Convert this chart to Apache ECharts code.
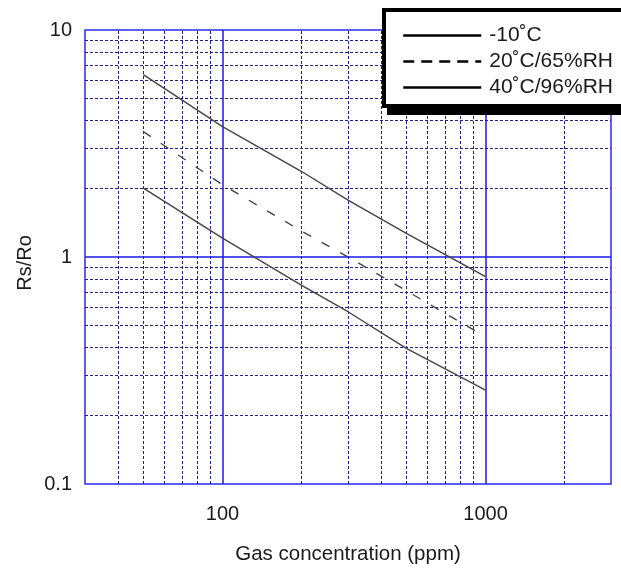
<!DOCTYPE html>
<html><head><meta charset="utf-8">
<script src="https://cdn.jsdelivr.net/npm/echarts@6/dist/echarts.min.js"></script>
<style>html,body{margin:0;padding:0;background:#fff}#c{width:621px;height:571px}</style>
</head><body><div id="c"></div>
<script>
const seriesNames = ['-10˚C', '20˚C/65%RH', '40˚C/96%RH'];
const concentrations = [50, 100, 200, 300, 500, 1000];
const ratioMinus10 = [6.36, 3.75, 2.38, 1.78, 1.27, 0.82];
const ratio20 = [3.57, 2.08, 1.30, 1.00, 0.71, 0.445];
const ratio40 = [2.01, 1.21, 0.75, 0.574, 0.396, 0.259];
const xMajorValues = [100, 1000];
const xTickLabels = ['100', '1000'];
const yMajorValues = [0.1, 1, 10];
const yTickLabels = ['0.1', '1', '10'];
const xMinorValues = [40, 50, 60, 70, 80, 90, 200, 300, 400, 500, 600, 700, 800, 900, 2000];
const yMinorValues = [0.2, 0.3, 0.4, 0.5, 0.6, 0.7, 0.8, 0.9, 2, 3, 4, 5, 6, 7, 8, 9];
const xMin = 30, xMax = 3000, yMin = 0.1, yMax = 10;
const xTitle = 'Gas concentration (ppm)';
const yTitle = 'Rs/Ro';

function pick(values, labels, v) {
  const i = values.findIndex(m => Math.abs(m - v) / m < 1e-6);
  return i >= 0 ? labels[i] : '';
}
function pairs(xs, ys) { return xs.map((x, i) => [x, ys[i]]); }

const FONT = '"Liberation Sans", Arial, Helvetica, sans-serif';
const minorStyle = { color: '#20208a', width: 1, type: [3, 2] };
const majorStyle = { color: '#1a1ae6', width: 1.5, type: 'solid' };

const gridLines = []
  .concat(xMinorValues.map(v => ({ xAxis: v, lineStyle: minorStyle })))
  .concat(yMinorValues.map(v => ({ yAxis: v, lineStyle: minorStyle })))
  .concat(xMajorValues.map(v => ({ xAxis: v, lineStyle: majorStyle })))
  .concat([{ yAxis: 1, lineStyle: majorStyle }]);

const curveStyle = { color: '#444', width: 1.4 };
const chart = echarts.init(document.getElementById('c'), null, { renderer: 'canvas' });
chart.setOption({
  animation: false,
  backgroundColor: '#fff',
  grid: { left: 85, top: 30, right: 10, bottom: 87, show: true, borderColor: '#2a2aee', borderWidth: 1.5, backgroundColor: 'transparent' },
  xAxis: {
    type: 'log', logBase: 10, min: xMin, max: xMax,
    axisLine: { show: false }, axisTick: { show: false }, splitLine: { show: false },
    axisLabel: { margin: 20, fontSize: 20, color: '#1a1a1a', fontFamily: FONT,
      formatter: v => pick(xMajorValues, xTickLabels, v) },
    name: xTitle, nameLocation: 'middle', nameGap: 60,
    nameTextStyle: { fontSize: 20.5, color: '#1a1a1a', fontFamily: FONT }
  },
  yAxis: {
    type: 'log', logBase: 10, min: yMin, max: yMax,
    axisLine: { show: false }, axisTick: { show: false }, splitLine: { show: false },
    axisLabel: { margin: 13, fontSize: 20, color: '#1a1a1a', fontFamily: FONT,
      formatter: v => pick(yMajorValues, yTickLabels, v) },
    name: yTitle, nameLocation: 'middle', nameGap: 50, nameMoveOverlap: false,
    nameTextStyle: { fontSize: 20, color: '#1a1a1a', fontFamily: FONT, padding: [0, 12, 0, 0] }
  },
  graphic: [
    { type: 'rect', z: 50, silent: true, shape: { x: 387, y: 15, width: 300, height: 100 }, style: { fill: '#000' } },
    { type: 'rect', z: 51, silent: true, shape: { x: 384, y: 10, width: 300, height: 96 }, style: { fill: '#fff', stroke: '#000', lineWidth: 4 } }
  ],
  legend: {
    left: 384, top: 10, orient: 'vertical', z: 60,
    padding: [15, 5, 5, 18],
    itemWidth: 78, itemHeight: 14, itemGap: 5,
    textStyle: { fontSize: 21, lineHeight: 21, color: '#1a1a1a', fontFamily: FONT, padding: [0, 0, 0, 3] },
    lineStyle: { color: '#000', width: 2.5 },
    itemStyle: { color: 'rgba(0,0,0,0)', borderColor: 'rgba(0,0,0,0)', borderWidth: 0 },
    data: [
      { name: seriesNames[0] },
      { name: seriesNames[1], lineStyle: { type: [11, 7] } },
      { name: seriesNames[2] }
    ]
  },
  series: [
    { name: 'grid', type: 'line', data: [], z: 1, silent: true,
      markLine: { silent: true, symbol: ['none', 'none'], label: { show: false }, z: 1, animation: false, data: gridLines } },
    { name: seriesNames[0], type: 'line', z: 3, symbol: 'none', data: pairs(concentrations, ratioMinus10), lineStyle: curveStyle },
    { name: seriesNames[1], type: 'line', z: 3, symbol: 'none', data: pairs(concentrations, ratio20), lineStyle: Object.assign({ type: [9, 12] }, curveStyle) },
    { name: seriesNames[2], type: 'line', z: 3, symbol: 'none', data: pairs(concentrations, ratio40), lineStyle: curveStyle }
  ]
});
</script></body></html>
